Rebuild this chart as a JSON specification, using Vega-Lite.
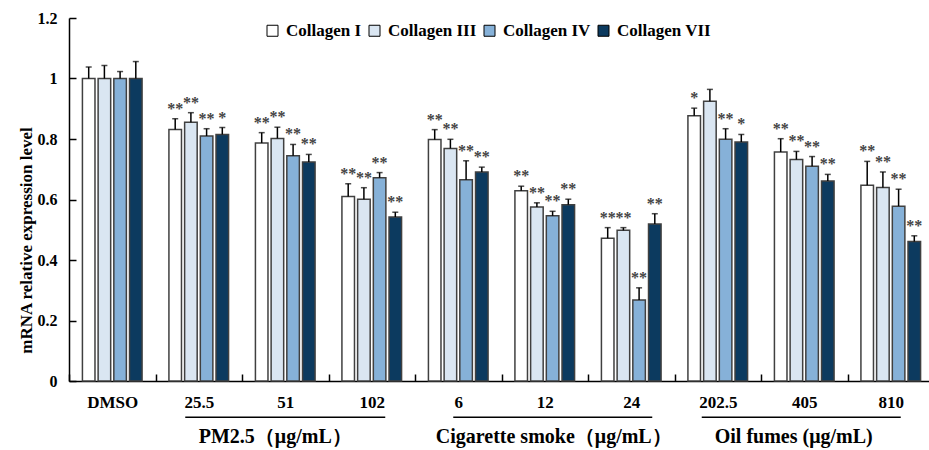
{
  "$schema": "https://vega.github.io/schema/vega-lite/v6.json",
  "autosize": "none",
  "width": 860,
  "height": 363,
  "padding": {"left": 69, "top": 18, "right": 0, "bottom": 69},
  "background": "white",
  "config": {
    "font": "Liberation Serif",
    "view": {"stroke": null},
    "axis": {"grid": false}
  },
  "datasets": {
    "bars": [
      {"dose": "DMSO", "type": "Collagen I", "value": 1.0, "top": 1.038, "sig": ""},
      {"dose": "DMSO", "type": "Collagen III", "value": 1.0, "top": 1.043, "sig": ""},
      {"dose": "DMSO", "type": "Collagen IV", "value": 1.0, "top": 1.023, "sig": ""},
      {"dose": "DMSO", "type": "Collagen VII", "value": 1.0, "top": 1.056, "sig": ""},
      {"dose": "25.5", "type": "Collagen I", "value": 0.831, "top": 0.867, "sig": "**"},
      {"dose": "25.5", "type": "Collagen III", "value": 0.855, "top": 0.887, "sig": "**"},
      {"dose": "25.5", "type": "Collagen IV", "value": 0.810, "top": 0.834, "sig": "**"},
      {"dose": "25.5", "type": "Collagen VII", "value": 0.815, "top": 0.838, "sig": "*"},
      {"dose": "51", "type": "Collagen I", "value": 0.787, "top": 0.821, "sig": "**"},
      {"dose": "51", "type": "Collagen III", "value": 0.802, "top": 0.839, "sig": "**"},
      {"dose": "51", "type": "Collagen IV", "value": 0.745, "top": 0.782, "sig": "**"},
      {"dose": "51", "type": "Collagen VII", "value": 0.724, "top": 0.749, "sig": "**"},
      {"dose": "102", "type": "Collagen I", "value": 0.610, "top": 0.652, "sig": "**"},
      {"dose": "102", "type": "Collagen III", "value": 0.601, "top": 0.639, "sig": "**"},
      {"dose": "102", "type": "Collagen IV", "value": 0.672, "top": 0.689, "sig": "**"},
      {"dose": "102", "type": "Collagen VII", "value": 0.542, "top": 0.558, "sig": "**"},
      {"dose": "6", "type": "Collagen I", "value": 0.798, "top": 0.831, "sig": "**"},
      {"dose": "6", "type": "Collagen III", "value": 0.769, "top": 0.799, "sig": "**"},
      {"dose": "6", "type": "Collagen IV", "value": 0.665, "top": 0.728, "sig": "**"},
      {"dose": "6", "type": "Collagen VII", "value": 0.691, "top": 0.707, "sig": "**"},
      {"dose": "12", "type": "Collagen I", "value": 0.629, "top": 0.644, "sig": "**"},
      {"dose": "12", "type": "Collagen III", "value": 0.575, "top": 0.589, "sig": "**"},
      {"dose": "12", "type": "Collagen IV", "value": 0.546, "top": 0.561, "sig": "**"},
      {"dose": "12", "type": "Collagen VII", "value": 0.583, "top": 0.601, "sig": "**"},
      {"dose": "24", "type": "Collagen I", "value": 0.472, "top": 0.507, "sig": "**"},
      {"dose": "24", "type": "Collagen III", "value": 0.498, "top": 0.507, "sig": "**"},
      {"dose": "24", "type": "Collagen IV", "value": 0.268, "top": 0.308, "sig": "**"},
      {"dose": "24", "type": "Collagen VII", "value": 0.519, "top": 0.553, "sig": "**"},
      {"dose": "202.5", "type": "Collagen I", "value": 0.877, "top": 0.902, "sig": "*"},
      {"dose": "202.5", "type": "Collagen III", "value": 0.925, "top": 0.964, "sig": ""},
      {"dose": "202.5", "type": "Collagen IV", "value": 0.799, "top": 0.834, "sig": "**"},
      {"dose": "202.5", "type": "Collagen VII", "value": 0.790, "top": 0.815, "sig": "*"},
      {"dose": "405", "type": "Collagen I", "value": 0.757, "top": 0.801, "sig": "**"},
      {"dose": "405", "type": "Collagen III", "value": 0.732, "top": 0.759, "sig": "**"},
      {"dose": "405", "type": "Collagen IV", "value": 0.710, "top": 0.742, "sig": "**"},
      {"dose": "405", "type": "Collagen VII", "value": 0.661, "top": 0.683, "sig": "**"},
      {"dose": "810", "type": "Collagen I", "value": 0.647, "top": 0.726, "sig": "**"},
      {"dose": "810", "type": "Collagen III", "value": 0.640, "top": 0.691, "sig": "**"},
      {"dose": "810", "type": "Collagen IV", "value": 0.578, "top": 0.634, "sig": "**"},
      {"dose": "810", "type": "Collagen VII", "value": 0.461, "top": 0.480, "sig": "**"}
    ],
    "groups": [
      {"name": "PM2.5", "label": "PM2.5（μg/mL）", "first": "25.5", "mid": "51", "last": "102"},
      {"name": "Cigarette", "label": "Cigarette smoke（μg/mL）", "first": "6", "mid": "12", "last": "24"},
      {"name": "Oil", "label": "Oil fumes (μg/mL)", "first": "202.5", "mid": "405", "last": "810"}
    ]
  },
  "encoding": {
    "x": {
      "field": "dose",
      "type": "nominal",
      "scale": {
        "domain": ["DMSO", "25.5", "51", "102", "6", "12", "24", "202.5", "405", "810"],
        "range": [0, 865],
        "paddingInner": 0,
        "paddingOuter": 0
      },
      "axis": {
        "title": null,
        "labelAngle": 0,
        "labelFont": "Liberation Serif",
        "labelFontSize": 17,
        "labelFontWeight": "bold",
        "labelColor": "#000",
        "labelPadding": 20,
        "tickSize": -7,
        "tickWidth": 1.5,
        "tickColor": "#000",
        "tickBand": "extent",
        "domainColor": "#000",
        "domainWidth": 1.5
      }
    }
  },
  "layer": [
    {
      "data": {"name": "bars"},
      "mark": {"type": "bar", "stroke": "#404040", "strokeWidth": 1.5},
      "encoding": {
        "xOffset": {
          "field": "type",
          "type": "nominal",
          "scale": {
            "domain": ["Collagen I", "Collagen III", "Collagen IV", "Collagen VII"],
            "paddingInner": 0.2,
            "paddingOuter": 0.855
          }
        },
        "y": {
          "field": "value",
          "type": "quantitative",
          "scale": {"domain": [0, 1.2], "nice": false, "zero": true},
          "axis": {
            "values": [0, 0.2, 0.4, 0.6, 0.8, 1, 1.2],
            "format": "~g",
            "title": "mRNA relative expression level",
            "titleFont": "Liberation Serif",
            "titleFontSize": 17,
            "titleFontWeight": "bold",
            "titleColor": "#000",
            "titleX": -43,
            "titleY": 222,
            "titleBaseline": "middle",
            "titleAngle": -90,
            "labelFont": "Liberation Serif",
            "labelFontSize": 16,
            "labelFontWeight": "bold",
            "labelColor": "#000",
            "labelPadding": 19,
            "tickSize": -7,
            "tickWidth": 1.5,
            "tickColor": "#000",
            "domainColor": "#000",
            "domainWidth": 1.5
          }
        },
        "fill": {
          "field": "type",
          "type": "nominal",
          "scale": {
            "domain": ["Collagen I", "Collagen III", "Collagen IV", "Collagen VII"],
            "range": ["#ffffff", "#dae6f2", "#86b1d8", "#0c3a5f"]
          },
          "legend": {
            "orient": "none",
            "direction": "horizontal",
            "legendX": 195,
            "legendY": 4,
            "title": null,
            "symbolType": "square",
            "symbolSize": 121,
            "symbolStrokeColor": "#000",
            "symbolStrokeWidth": 1,
            "labelFont": "Liberation Serif",
            "labelFontSize": 17,
            "labelFontWeight": "bold",
            "labelColor": "#000",
            "labelOffset": 5,
            "columnPadding": 4
          }
        }
      }
    },
    {
      "data": {"name": "bars"},
      "mark": {"type": "rule", "stroke": "#000", "strokeWidth": 1.5},
      "encoding": {
        "xOffset": {"field": "type", "type": "nominal"},
        "y": {"field": "value", "type": "quantitative"},
        "y2": {"field": "top"}
      }
    },
    {
      "data": {"name": "bars"},
      "mark": {"type": "tick", "color": "#000", "size": 6, "thickness": 1.5, "orient": "horizontal"},
      "encoding": {
        "xOffset": {"field": "type", "type": "nominal"},
        "y": {"field": "top", "type": "quantitative"}
      }
    },
    {
      "data": {"name": "bars"},
      "transform": [{"filter": "datum.sig !== ''"}],
      "mark": {"type": "text", "font": "Liberation Serif", "fontSize": 16, "fontWeight": "bold", "color": "#444", "baseline": "middle", "dy": -10},
      "encoding": {
        "xOffset": {"field": "type", "type": "nominal"},
        "y": {"field": "top", "type": "quantitative"},
        "text": {"field": "sig"}
      }
    },
    {
      "data": {"name": "groups"},
      "transform": [{"filter": "datum.name === 'PM2.5'"}],
      "mark": {"type": "rule", "stroke": "#000", "strokeWidth": 1.5, "xOffset": -13.5, "x2Offset": 13.5},
      "encoding": {
        "x": {"field": "first", "type": "nominal"},
        "x2": {"field": "last"},
        "y": {"datum": -0.1197}
      }
    },
    {
      "data": {"name": "groups"},
      "transform": [{"filter": "datum.name === 'Cigarette'"}],
      "mark": {"type": "rule", "stroke": "#000", "strokeWidth": 1.5, "xOffset": -5, "x2Offset": 21},
      "encoding": {
        "x": {"field": "first", "type": "nominal"},
        "x2": {"field": "last"},
        "y": {"datum": -0.1197}
      }
    },
    {
      "data": {"name": "groups"},
      "transform": [{"filter": "datum.name === 'Oil'"}],
      "mark": {"type": "rule", "stroke": "#000", "strokeWidth": 1.5, "xOffset": -16, "x2Offset": 10},
      "encoding": {
        "x": {"field": "first", "type": "nominal"},
        "x2": {"field": "last"},
        "y": {"datum": -0.1197}
      }
    },
    {
      "data": {"name": "groups"},
      "transform": [{"filter": "datum.name === 'PM2.5'"}],
      "mark": {"type": "text", "font": "Liberation Serif", "fontSize": 20, "fontWeight": "bold", "color": "#000", "baseline": "alphabetic", "align": "center", "dx": -10},
      "encoding": {
        "x": {"field": "mid", "type": "nominal"},
        "y": {"datum": -0.2034},
        "text": {"field": "label"}
      }
    },
    {
      "data": {"name": "groups"},
      "transform": [{"filter": "datum.name === 'Cigarette'"}],
      "mark": {"type": "text", "font": "Liberation Serif", "fontSize": 20, "fontWeight": "bold", "color": "#000", "baseline": "alphabetic", "align": "center", "dx": 9},
      "encoding": {
        "x": {"field": "mid", "type": "nominal"},
        "y": {"datum": -0.2034},
        "text": {"field": "label"}
      }
    },
    {
      "data": {"name": "groups"},
      "transform": [{"filter": "datum.name === 'Oil'"}],
      "mark": {"type": "text", "font": "Liberation Serif", "fontSize": 20, "fontWeight": "bold", "color": "#000", "baseline": "alphabetic", "align": "center", "dx": -10.5},
      "encoding": {
        "x": {"field": "mid", "type": "nominal"},
        "y": {"datum": -0.2034},
        "text": {"field": "label"}
      }
    }
  ]
}
